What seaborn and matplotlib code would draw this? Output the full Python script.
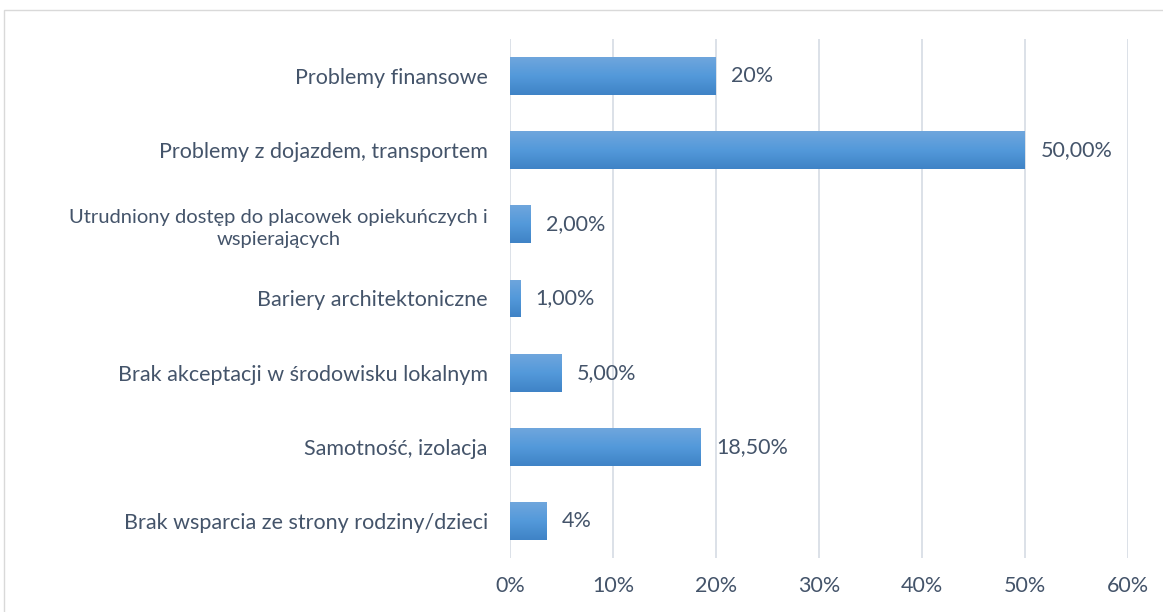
import numpy as np
import pandas as pd
import matplotlib
matplotlib.use("Agg")
import matplotlib.pyplot as plt
from matplotlib.patches import Rectangle
from matplotlib.colors import LinearSegmentedColormap
import seaborn as sns

# data
categories = [
    "Problemy finansowe",
    "Problemy z dojazdem, transportem",
    "Utrudniony dostęp do placowek opiekuńczych i\nwspierających",
    "Bariery architektoniczne",
    "Brak akceptacji w środowisku lokalnym",
    "Samotność, izolacja",
    "Brak wsparcia ze strony rodziny/dzieci",
]
values = [20, 50, 2, 1, 5, 18.5, 3.5]
value_labels = ["20%", "50,00%", "2,00%", "1,00%", "5,00%", "18,50%", "4%"]
x_ticks = [0, 10, 20, 30, 40, 50, 60]

df = pd.DataFrame({"kategoria": categories, "wartosc": values})

sns.set_theme(style="white")
plt.rcParams["font.family"] = ["Lato", "DejaVu Sans"]
text_col = "#44546A"
fs = 15.5

fig = plt.figure(figsize=(11.63, 6.12), dpi=100)
ax = fig.add_axes([510 / 1163, 1 - 558 / 612, (1128 - 510) / 1163, (558 - 39) / 612])

sns.barplot(data=df, x="wartosc", y="kategoria", orient="h", color="#5B9BD5",
            width=0.51, ax=ax, zorder=3)

# Excel-like vertical gradient on each bar
grad = LinearSegmentedColormap.from_list("g", ["#6FA6DD", "#5399DA", "#3F83C6"])
img = np.linspace(0, 1, 100).reshape(-1, 1)
for p in list(ax.patches):
    x0, y0 = p.get_x(), p.get_y()
    w, h = p.get_width(), p.get_height()
    im = ax.imshow(img, cmap=grad, aspect="auto", extent=(x0, x0 + w, y0 + h, y0),
                   origin="upper", zorder=4)
    im.set_clip_path(p)
    p.set_alpha(0)

for i, (v, lab) in enumerate(zip(values, value_labels)):
    ax.text(v + 1.5, i, lab, va="center", ha="left", fontsize=fs, color=text_col, zorder=5)

ax.set_xlim(0, 60)
ax.set_ylim(6.5, -0.5)
ax.set_xticks(x_ticks)
ax.set_xticklabels([f"{t}%" for t in x_ticks])
ax.grid(True, axis="x", color="#D9DEE6", linewidth=1.3, zorder=0)
ax.set_axisbelow(True)
for s in ax.spines.values():
    s.set_visible(False)
ax.tick_params(axis="x", length=0, pad=13, labelsize=fs, labelcolor=text_col)
ax.tick_params(axis="y", length=0, pad=16, labelsize=fs, labelcolor=text_col)
for t in ax.get_yticklabels():
    t.set_multialignment("center")
    if "\n" in t.get_text():
        # the wrapped label is a touch smaller in the source
        t.set_fontsize(14.5)
        t.set_linespacing(1.35)
ax.set_xlabel("")
ax.set_ylabel("")

# light frame around the chart area like the source
fig.patches.append(Rectangle((4 / 1163, -0.1), 1.2, 1 - 9.5 / 612 + 0.1,
                             transform=fig.transFigure, fill=False,
                             edgecolor="#D9D9D9", linewidth=1.0))

fig.savefig("out.png", dpi=100)
